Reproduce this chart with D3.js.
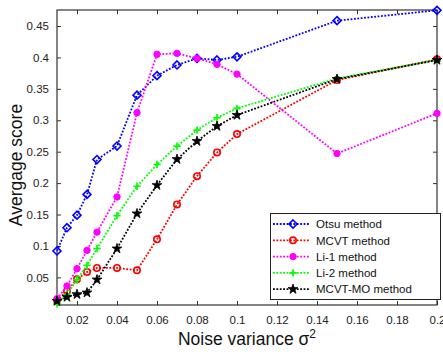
<!DOCTYPE html>
<html>
<head>
<meta charset="utf-8">
<script src="https://cdn.jsdelivr.net/npm/d3@7"></script>
<style>
  body { margin: 0; background: #fff; }
  svg { font-family: Arial, "Liberation Sans", sans-serif; }
</style>
</head>
<body>
<svg id="chart" width="443" height="352"></svg>
<script>
// noise variance values
const noise = [0.01, 0.015, 0.02, 0.025, 0.03, 0.04, 0.05, 0.06, 0.07, 0.08, 0.09, 0.1, 0.15, 0.2];

const otsu   = [0.092, 0.129, 0.149, 0.182, 0.2375, 0.259, 0.340, 0.371, 0.388, 0.3985, 0.396, 0.401, 0.4585, 0.475];
const mcvt   = [0.0134, 0.028, 0.0468, 0.0585, 0.0649, 0.065, 0.0612, 0.1106, 0.166, 0.211, 0.2487, 0.278, 0.364, 0.397];
const li1    = [0.016, 0.0362, 0.0638, 0.093, 0.122, 0.178, 0.312, 0.405, 0.4065, 0.3985, 0.389, 0.3735, 0.247, 0.311];
const li2    = [0.008, 0.023, 0.0463, 0.069, 0.0957, 0.1483, 0.195, 0.2296, 0.2588, 0.2843, 0.304, 0.319, 0.3666, 0.396];
const mcvtmo = [0.0122, 0.0186, 0.023, 0.0256, 0.0463, 0.0957, 0.1515, 0.1966, 0.238, 0.2667, 0.2906, 0.3082, 0.3655, 0.3958];

const seriesNames = ["Otsu method", "MCVT method", "Li-1 method", "Li-2 method", "MCVT-MO method"];
const xTicks = [0.02, 0.04, 0.06, 0.08, 0.1, 0.12, 0.14, 0.16, 0.18, 0.2];
const yTicks = [0.05, 0.1, 0.15, 0.2, 0.25, 0.3, 0.35, 0.4, 0.45];

const series = [
  {name: seriesNames[0], values: otsu,   color: "#0000ff", marker: "diamond"},
  {name: seriesNames[1], values: mcvt,   color: "#ff0000", marker: "circle"},
  {name: seriesNames[2], values: li1,    color: "#ff00ff", marker: "dot"},
  {name: seriesNames[3], values: li2,    color: "#00ff00", marker: "plus"},
  {name: seriesNames[4], values: mcvtmo, color: "#000000", marker: "star"}
];

const plotL = 57, plotR = 437, plotT = 10, plotB = 305;

const svg = d3.select("#chart");

const x = d3.scaleLinear().domain([0.01, 0.2]).range([plotL, plotR]);
const y = d3.scaleLinear().domain([0.006, 0.4755]).range([plotB, plotT]);

// axes (ticks inward, MATLAB style)
const axisColor = "#333";
function styleAxis(g) {
  g.select(".domain").remove();
  g.selectAll("line").attr("stroke", axisColor);
  g.selectAll("text").attr("fill", "#222").style("font-size", "11.5px");
}

svg.append("g")
  .attr("transform", "translate(0," + plotB + ")")
  .call(d3.axisBottom(x).tickValues(xTicks).tickSizeInner(-4).tickSizeOuter(0).tickPadding(9).tickFormat(d3.format("~g")))
  .call(styleAxis)
  .call(g => g.selectAll("text").attr("dy", "0.9em"));

svg.append("g")
  .attr("transform", "translate(0," + plotT + ")")
  .call(d3.axisTop(x).tickValues(xTicks).tickSizeInner(-4).tickSizeOuter(0).tickFormat(""))
  .call(styleAxis);

svg.append("g")
  .attr("transform", "translate(" + plotL + ",0)")
  .call(d3.axisLeft(y).tickValues(yTicks).tickSizeInner(-4).tickSizeOuter(0).tickPadding(8).tickFormat(d3.format("~g")))
  .call(styleAxis);

svg.append("g")
  .attr("transform", "translate(" + plotR + ",0)")
  .call(d3.axisRight(y).tickValues(yTicks).tickSizeInner(-4).tickSizeOuter(0).tickFormat(""))
  .call(styleAxis);

svg.append("rect")
  .attr("x", plotL).attr("y", plotT)
  .attr("width", plotR - plotL).attr("height", plotB - plotT)
  .attr("fill", "none").attr("stroke", axisColor).attr("stroke-width", 1.2);

// lines
const line = d3.line().x((d, i) => x(noise[i])).y(d => y(d));

const starPath = d3.symbol().type(d3.symbolStar).size(30)();
const diamondPath = "M0,-4L4,0L0,4L-4,0Z";

function drawMarker(g, type, color) {
  if (type === "diamond") {
    g.append("path").attr("d", diamondPath).attr("fill", "none").attr("stroke", color).attr("stroke-width", 1.6);
  } else if (type === "circle") {
    g.append("circle").attr("r", 3.2).attr("fill", "none").attr("stroke", color).attr("stroke-width", 1.6);
  } else if (type === "dot") {
    g.append("circle").attr("r", 3.2).attr("fill", color).attr("stroke", color).attr("stroke-width", 1);
  } else if (type === "plus") {
    g.append("path").attr("d", "M-3.7,0H3.7M0,-3.7V3.7").attr("stroke", color).attr("stroke-width", 1.7);
  } else if (type === "star") {
    g.append("path").attr("d", starPath).attr("fill", color).attr("stroke", color).attr("stroke-width", 0.8);
  }
}

series.forEach(s => {
  svg.append("path")
    .datum(s.values)
    .attr("d", line)
    .attr("fill", "none")
    .attr("stroke", s.color)
    .attr("stroke-width", 1.8)
    .attr("stroke-dasharray", "1.8,1.6");

  svg.append("g").selectAll("g")
    .data(s.values)
    .enter().append("g")
    .attr("transform", (d, i) => "translate(" + x(noise[i]) + "," + y(d) + ")")
    .each(function() { drawMarker(d3.select(this), s.marker, s.color); });
});

// legend
const legend = svg.append("g");
legend.append("rect")
  .attr("x", 270.5).attr("y", 213.5).attr("width", 170).attr("height", 86)
  .attr("fill", "#fff").attr("stroke", "#222").attr("stroke-width", 1);

series.forEach((s, i) => {
  const ly = 224 + i * 16.3;
  legend.append("line")
    .attr("x1", 273).attr("x2", 310).attr("y1", ly).attr("y2", ly)
    .attr("stroke", s.color).attr("stroke-width", 1.8).attr("stroke-dasharray", "1.8,1.6");
  const m = legend.append("g").attr("transform", "translate(293," + ly + ")");
  drawMarker(m, s.marker, s.color);
  legend.append("text")
    .attr("x", 316).attr("y", ly + 4.2)
    .style("font-size", "11.5px").attr("fill", "#111")
    .text(s.name);
});

// axis titles
const xt = svg.append("text")
  .attr("x", 247).attr("y", 345)
  .attr("text-anchor", "middle")
  .style("font-size", "17.5px").attr("fill", "#111");
xt.append("tspan").text("Noise variance σ");
xt.append("tspan").attr("dy", "-7.5").style("font-size", "12px").text("2");

svg.append("text")
  .attr("transform", "translate(22,165) rotate(-90)")
  .attr("text-anchor", "middle")
  .style("font-size", "17.5px").attr("fill", "#111")
  .text("Avergage score");
</script>
</body>
</html>
